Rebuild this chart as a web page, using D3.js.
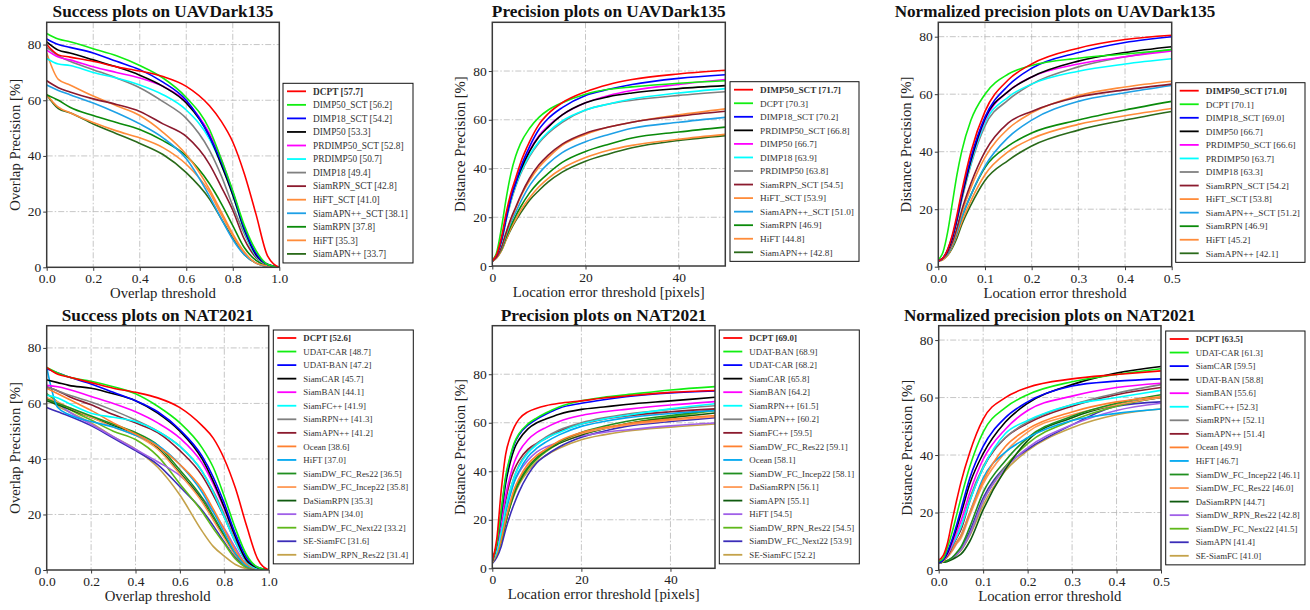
<!DOCTYPE html>
<html>
<head>
<meta charset="utf-8">
<script src="https://cdn.jsdelivr.net/npm/d3@7"></script>
<style>
  body { margin: 0; background: #fff; }
  svg text { font-family: "Liberation Serif", "Times New Roman", serif; }
</style>
</head>
<body>
<svg id="chart" width="1310" height="610"></svg>
<script>
// ---- thresholds (x values shared by the curves) ----
const successX = [0, 0.05, 0.1, 0.2, 0.3, 0.4, 0.5, 0.6, 0.7, 0.75, 0.8, 0.85, 0.9, 0.95, 1.0];
const precX = [0, 1, 2, 3, 4, 5, 6, 8, 10, 12, 15, 20, 25, 30, 40, 50];
const normX = [0, 0.01, 0.02, 0.03, 0.04, 0.05, 0.07, 0.1, 0.15, 0.2, 0.3, 0.4, 0.5];

const darkColors = ['#ff0000', '#11ee11', '#0000ff', '#000000', '#ff00ff', '#00ffff', '#808080',
  '#8b1a2e', '#ff8c3a', '#1ea0e6', '#0a8a0a', '#ff8c3a', '#2a6a1a'];
const natColors = ['#ff0000', '#11ee11', '#0000ff', '#000000', '#ff00ff', '#00ffff', '#808080',
  '#8b1a2e', '#ff8030', '#00a8f0', '#1f8f1f', '#ff9955', '#0f5a0f', '#a060e8', '#5fb81a', '#3b2db8', '#c4a24a'];

// ---- UAVDark135 success ----
const darkSuccessNames = ['DCPT', 'DIMP50_SCT', 'DIMP18_SCT', 'DIMP50', 'PRDIMP50_SCT', 'PRDIMP50', 'DIMP18',
  'SiamRPN_SCT', 'HiFT_SCT', 'SiamAPN++_SCT', 'SiamRPN', 'HiFT', 'SiamAPN++'];
const darkSuccessScores = [57.7, 56.2, 54.2, 53.3, 52.8, 50.7, 49.4, 42.8, 41.0, 38.1, 37.8, 35.3, 33.7];
const darkSuccessValues = [
  [80, 76.3, 75.5, 74, 72, 70.5, 68.5, 65, 58, 52.5, 45, 33.5, 19, 4, 0],
  [84, 82, 81, 78.5, 76, 72.5, 68, 61, 49.5, 39, 27.5, 15, 6, 1, 0],
  [82, 80, 79, 77, 74, 71, 66.5, 60, 47, 38, 27, 14, 5, 1, 0],
  [81, 78, 77, 74.5, 72, 69, 65, 59, 47, 37, 26, 13.5, 4.5, 1, 0],
  [78, 75.5, 74.5, 72, 70, 68, 65, 59.5, 48, 39, 27, 14, 4.5, 1, 0],
  [75, 73, 72.5, 70, 68, 65.5, 62, 56.5, 46, 37, 26, 13, 4, 1, 0],
  [79, 76, 74, 71, 68, 64.5, 59.5, 53.5, 42, 33, 22, 12, 4, 1, 0],
  [67, 64.5, 63, 60.5, 58.5, 56, 51.5, 47, 37, 29, 20.5, 10, 3.5, 1, 0],
  [77, 67.5, 65.5, 61.5, 58, 54.5, 48.5, 40.5, 28, 20, 12, 5.5, 1.5, 0.5, 0],
  [65.5, 63.5, 62, 59, 55.5, 51.5, 46.5, 39, 25.5, 17.5, 10, 4.5, 1.5, 0.3, 0],
  [62, 60, 57.5, 54.5, 52, 49.5, 45.5, 40, 30, 23, 15, 7, 2.5, 0.5, 0],
  [62, 57.5, 55.5, 52, 49, 46.5, 43, 37, 27, 19, 11.5, 5, 1.5, 0.3, 0],
  [62, 57, 55.5, 51.5, 48, 44.5, 40.5, 34, 24.5, 17.5, 10.5, 4.5, 1.5, 0.3, 0]
];

// ---- UAVDark135 precision ----
const darkPrecNames = ['DIMP50_SCT', 'DCPT', 'DIMP18_SCT', 'PRDIMP50_SCT', 'DIMP50', 'DIMP18', 'PRDIMP50',
  'SiamRPN_SCT', 'HiFT_SCT', 'SiamAPN++_SCT', 'SiamRPN', 'HiFT', 'SiamAPN++'];
const darkPrecScores = [71.7, 70.3, 70.2, 66.8, 66.7, 63.9, 63.8, 54.5, 53.9, 51.0, 46.9, 44.8, 42.8];
const darkPrecValues = [
  [2, 5, 12, 22, 30, 36, 42, 51, 58, 62.5, 67, 71.5, 74.5, 76.5, 78.8, 80.3],
  [2, 6, 16, 28, 38, 45, 50, 56.5, 61, 64, 67, 70.5, 72.5, 73.5, 75, 76],
  [2, 5, 11, 20, 28, 34, 40, 49, 56, 60.5, 65, 70, 72.5, 74.5, 77, 78.5],
  [2, 5, 11, 20, 28, 34, 39, 47, 53, 57, 62, 67, 69.5, 71, 72.8, 74],
  [2, 5, 11, 20, 28, 34.5, 39.5, 47.5, 53.5, 57.5, 62, 67, 70, 72, 74.5, 76.5],
  [2, 5, 10, 19, 27, 33, 38, 45.5, 51, 55, 59.5, 64, 66.5, 68.5, 71, 72.8],
  [2, 5, 10, 19, 26.5, 32.5, 37.5, 45, 50.5, 54.5, 59, 64, 66.5, 68, 70, 71.5],
  [2, 4, 8, 14, 19.5, 24, 28.5, 36, 41.5, 45.5, 50, 54.5, 57, 59, 61.5, 63.5],
  [2, 4, 8, 13.5, 19, 23.5, 28, 35, 40.5, 44.5, 49.5, 54, 57, 59, 62, 64.5],
  [2, 4, 7.5, 13, 18, 22, 26, 33, 38, 42, 46.5, 51, 54, 56.5, 59, 61],
  [2, 4, 7, 12, 16.5, 20.5, 24, 30, 34.5, 38, 42.5, 47, 50, 52.5, 55, 57],
  [2, 3.5, 6.5, 11, 15.5, 19, 22.5, 28, 32.5, 36, 40, 44.5, 47.5, 49.5, 52, 54],
  [2, 3.5, 6.5, 11, 15, 18.5, 21.5, 27, 31, 34.5, 38.5, 43, 46, 48.5, 51.5, 53.5]
];

// ---- UAVDark135 normalized precision ----
const darkNormNames = ['DIMP50_SCT', 'DCPT', 'DIMP18_SCT', 'DIMP50', 'PRDIMP50_SCT', 'PRDIMP50', 'DIMP18',
  'SiamRPN_SCT', 'HiFT_SCT', 'SiamAPN++_SCT', 'SiamRPN', 'HiFT', 'SiamAPN++'];
const darkNormScores = [71.0, 70.1, 69.0, 66.7, 66.6, 63.7, 63.3, 54.2, 53.8, 51.2, 46.9, 45.2, 42.1];
const darkNormValues = [
  [2, 3, 6, 11, 18, 26, 40, 54, 65, 70.5, 76, 79, 80.5],
  [2.5, 5, 12, 22, 32, 40, 51, 60, 67, 70, 72.5, 74, 75.5],
  [2, 3, 6, 10.5, 17, 25, 38, 52, 63, 69, 74.5, 78, 80],
  [2, 3, 5.5, 10, 16.5, 24, 37, 51.5, 61, 66, 71.5, 74.5, 76.5],
  [2, 3, 5.5, 10, 16.5, 24, 37, 51, 61, 66, 70.5, 73, 75],
  [2, 3, 5.5, 10, 16, 23.5, 36, 50, 59, 63.5, 68, 70.5, 72.3],
  [2, 3, 5.5, 10, 16, 23, 35.5, 49, 58, 63.5, 69.5, 73, 75.5],
  [2, 3, 5, 8.5, 13.5, 19.5, 29, 40, 50, 54, 59, 61.5, 63.5],
  [2, 3, 5, 8, 13, 18.5, 27.5, 38, 48, 53.5, 59.5, 62.5, 64.5],
  [2, 3, 4.5, 7.5, 12, 17, 25, 35, 45, 51, 57.5, 60.5, 63],
  [2, 3, 4.5, 7.5, 12, 17, 25, 34.5, 42, 46.5, 51, 54.5, 57.5],
  [2, 2.5, 4, 7, 11, 15.5, 23, 32, 40, 44.5, 49.5, 52.5, 55],
  [2, 2.5, 4, 6.5, 10, 14.5, 21.5, 30, 37, 42, 47.5, 51, 54]
];

// ---- NAT2021 success ----
const natSuccessNames = ['DCPT', 'UDAT-CAR', 'UDAT-BAN', 'SiamCAR', 'SiamBAN', 'SiamFC++', 'SiamRPN++', 'SiamAPN++',
  'Ocean', 'HiFT', 'SiamDW_FC_Res22', 'SiamDW_FC_Incep22', 'DaSiamRPN', 'SiamAPN', 'SiamDW_FC_Next22',
  'SE-SiamFC', 'SiamDW_RPN_Res22'];
const natSuccessScores = [52.6, 48.7, 47.2, 45.7, 44.1, 41.9, 41.3, 41.2, 38.6, 37.0, 36.5, 35.8, 35.3, 34.0, 33.2, 31.6, 31.4];
const natSuccessValues = [
  [73, 70.5, 69.5, 67.5, 65.5, 64, 62, 58.5, 52, 47.5, 40, 29.5, 16, 4, 0],
  [73, 71, 69.5, 68, 66, 63.5, 59, 53, 44, 37, 26.5, 15, 5.5, 1, 0],
  [72.5, 71, 69.5, 67, 64, 61, 57, 50.5, 41, 33.5, 24, 13, 4.5, 1, 0],
  [68.5, 67.5, 66.5, 65.5, 63.5, 61, 56.5, 50, 40, 32, 22.5, 12, 3.5, 0.8, 0],
  [66.5, 66, 65, 62.5, 60, 57, 53, 47.5, 38.5, 31, 22, 12, 3.5, 0.8, 0],
  [63, 62, 60, 56.5, 55, 53.5, 50, 44.5, 35.5, 28, 19, 10, 3, 0.5, 0],
  [66, 64.5, 63, 60.5, 57.5, 54, 50, 44.5, 35.5, 28.5, 20, 10.5, 3, 0.5, 0],
  [66, 64.5, 62.5, 59.5, 56, 53, 49.5, 43, 34, 27, 19, 10, 3, 0.5, 0],
  [65.5, 63.5, 61.5, 57.5, 53, 49, 44.5, 38, 29, 22, 14.5, 7, 2, 0.3, 0],
  [73, 58.5, 56, 53.5, 51.5, 48.5, 45, 38, 28, 21, 13.5, 6, 1.5, 0.3, 0],
  [61.5, 60, 58.5, 55.5, 52.5, 49.5, 45, 36, 26, 19.5, 12.5, 6, 1.5, 0.3, 0],
  [62, 60.5, 58.5, 55, 51.5, 48.5, 43.5, 34.5, 24.5, 18, 11.5, 5.5, 1.5, 0.3, 0],
  [61, 59.5, 58, 55, 52, 49, 44, 35, 25, 18.5, 12, 5.5, 1.5, 0.3, 0],
  [62, 60, 57, 52.5, 48, 43.5, 39, 34, 26, 21, 15, 8, 2, 0.3, 0],
  [63.5, 60.5, 58, 54, 50, 47, 41, 31, 21, 15, 9.5, 4, 1, 0.2, 0],
  [58.5, 57, 55.5, 52, 47.5, 43, 38, 30, 21.5, 16, 10, 4.5, 1, 0.2, 0],
  [62, 59, 57, 53, 48, 43.5, 37, 27, 14, 8.5, 5, 2, 0.5, 0.1, 0]
];

// ---- NAT2021 precision ----
const natPrecNames = ['DCPT', 'UDAT-BAN', 'UDAT-CAR', 'SiamCAR', 'SiamBAN', 'SiamRPN++', 'SiamAPN++', 'SiamFC++',
  'SiamDW_FC_Res22', 'Ocean', 'SiamDW_FC_Incep22', 'DaSiamRPN', 'SiamAPN', 'HiFT', 'SiamDW_RPN_Res22',
  'SiamDW_FC_Next22', 'SE-SiamFC'];
const natPrecScores = [69.0, 68.9, 68.2, 65.8, 64.2, 61.5, 60.2, 59.5, 59.1, 58.1, 58.1, 56.1, 55.1, 54.5, 54.5, 53.9, 52.2];
const natPrecValues = [
  [3, 12, 32, 47, 54, 58.5, 61.5, 64.5, 66, 67, 68, 69, 70.2, 71, 72.5, 73.3],
  [3, 10, 24, 38, 46, 52, 55.5, 59.5, 62, 64, 66.5, 69, 70.5, 71.5, 73.5, 74.9],
  [3, 10, 23, 37, 45.5, 51.5, 55, 59, 61.5, 63.5, 66, 68, 69.5, 70.7, 72.3, 73.1],
  [3, 10, 22, 35, 43.5, 49.5, 53, 57.5, 60, 61.5, 63.5, 65.5, 66.5, 67.5, 69, 70.5],
  [3, 9, 19, 30, 38, 44, 48, 53, 56, 58, 60.5, 63, 64.5, 65.5, 67.3, 68.7],
  [3, 7, 15, 25, 32, 38, 42, 47.5, 51, 53.5, 56, 59.5, 61.5, 63, 65.7, 67.8],
  [3, 7, 15, 25, 32, 38, 42.5, 48, 51.5, 54, 57, 60, 62, 63.5, 65.5, 67],
  [3, 8, 17, 28, 36, 41, 44.5, 49, 51.5, 53.5, 56.5, 59.5, 61.5, 62.8, 64.5, 65.7],
  [2.5, 6, 12, 20, 27, 33, 37, 43, 46.5, 49, 52.5, 56, 58, 59.5, 61.5, 63],
  [3, 7, 14, 23, 30, 36, 40, 46, 49.5, 52, 55, 58.5, 60.5, 62, 63.8, 65],
  [2.5, 6, 11.5, 19, 26, 31.5, 36, 41.5, 45.5, 48.5, 52, 56, 58.5, 60.5, 63, 65.3],
  [2.5, 6, 12, 20, 27, 32.5, 36.5, 42.5, 46.5, 49, 52, 55.5, 57.5, 59, 61, 62.5],
  [2.5, 6, 11.5, 19, 26, 31.5, 35.5, 41.5, 45.5, 48.5, 51.5, 55, 57.5, 59.5, 62, 64],
  [3, 7, 14, 24, 31, 36, 39.5, 44.5, 48, 50, 52, 54.5, 56, 57, 58.7, 59.9],
  [2.5, 6, 11.5, 19, 25.5, 31, 35, 41, 45, 48, 51.5, 55, 57.5, 59.5, 62.5, 65],
  [2, 4.5, 9, 16, 22, 27, 31.5, 38.5, 43.5, 46.5, 50, 54, 56.5, 58.5, 60.5, 62.1],
  [2.5, 5.5, 11, 19, 25.5, 30.5, 34.5, 40, 44, 46.5, 49.5, 53, 55, 56.5, 58.2, 59.5]
];

// ---- NAT2021 normalized precision ----
const natNormNames = ['DCPT', 'UDAT-CAR', 'SiamCAR', 'UDAT-BAN', 'SiamBAN', 'SiamFC++', 'SiamRPN++', 'SiamAPN++',
  'Ocean', 'HiFT', 'SiamDW_FC_Incep22', 'SiamDW_FC_Res22', 'DaSiamRPN', 'SiamDW_RPN_Res22', 'SiamDW_FC_Next22',
  'SiamAPN', 'SE-SiamFC'];
const natNormScores = [63.5, 61.3, 59.5, 58.8, 55.6, 52.3, 52.1, 51.4, 49.9, 46.7, 46.1, 46.0, 44.7, 42.8, 41.5, 41.4, 41.0];
const natNormValues = [
  [3.5, 5, 9.5, 17, 24, 30.5, 41, 52.5, 60, 63.5, 66.5, 68, 69.3],
  [3, 4, 8, 13, 19, 25, 36, 48, 56.5, 61, 65.5, 68, 70],
  [2.5, 3.5, 6.5, 10.5, 15.5, 21, 32, 43, 53, 58.5, 64, 65.7, 66.5],
  [2.5, 3.5, 6, 10, 14.5, 19.5, 30, 40.5, 51.5, 58, 64.5, 68.5, 70.8],
  [2.5, 3.5, 5.5, 9, 13, 17, 27, 38.5, 49, 55.5, 60.5, 63.5, 65],
  [2.5, 3.5, 5.5, 8.5, 11.5, 15, 24, 35.5, 47.5, 52, 57.5, 60, 62.5],
  [2.5, 3.5, 5.5, 8.5, 11.5, 15, 25, 36, 46, 51.5, 57.5, 61.5, 64.5],
  [2.5, 3.5, 5, 8, 11, 14, 24, 35.5, 46, 51, 57, 61, 63.5],
  [2.5, 3, 5, 7, 9.5, 12, 20, 31, 43, 49, 55, 58.5, 60.3],
  [2.5, 3, 5, 7, 9.5, 12, 20, 32, 41, 46, 52, 54.5, 56],
  [2.5, 2.8, 3.3, 4.3, 6, 8, 15, 27, 38, 46, 53.5, 58, 61],
  [2.5, 3, 4.5, 6.5, 9, 11, 19, 30, 41, 48, 54, 57.5, 60],
  [2.5, 2.7, 3, 3.6, 4.5, 5.5, 10, 21, 35, 45, 53, 57.5, 60],
  [2.5, 2.8, 3.2, 4, 5.3, 7, 12.5, 24, 35.5, 42.5, 50.5, 55.5, 58],
  [2.5, 2.8, 3.2, 4, 5.3, 7, 12.5, 24, 36, 44, 52, 57, 60],
  [2.5, 2.8, 3.3, 4.2, 5.6, 7.5, 13.5, 25, 36, 42, 50.5, 57, 58.5],
  [2.5, 2.8, 3.2, 4, 5.2, 6.8, 12, 22.5, 34.5, 41.5, 49.5, 54, 56]
];

// ---- layout of the six panels ----
const fmt1 = d3.format('.1f');
const fmt0 = d3.format('d');
const panels = [
  { left: 46.7, right: 279.3, top: 22.3, bottom: 267.3, xDomain: [0, 1], yDomain: [0, 88],
    xTicks: [0, 0.2, 0.4, 0.6, 0.8, 1.0], xFormat: fmt1, xs: successX,
    names: darkSuccessNames, scores: darkSuccessScores, values: darkSuccessValues, colors: darkColors,
    title: 'Success plots on UAVDark135', titleW: 221,
    xLabel: 'Overlap threshold', yLabel: 'Overlap Precision [%]',
    legendX: 283, legendY: 83.3, legendW: 130 },
  { left: 492.3, right: 725.3, top: 22.3, bottom: 266, xDomain: [0, 50], yDomain: [0, 100],
    xTicks: [0, 20, 40], xFormat: fmt0, xs: precX,
    names: darkPrecNames, scores: darkPrecScores, values: darkPrecValues, colors: darkColors,
    title: 'Precision plots on UAVDark135', titleW: 234,
    xLabel: 'Location error threshold [pixels]', yLabel: 'Distance Precision [%]',
    legendX: 730, legendY: 81.7, legendW: 129 },
  { left: 938.3, right: 1171.7, top: 22.3, bottom: 266.7, xDomain: [0, 0.5], yDomain: [0, 85],
    xTicks: [0, 0.1, 0.2, 0.3, 0.4, 0.5], xFormat: fmt1, xs: normX,
    names: darkNormNames, scores: darkNormScores, values: darkNormValues, colors: darkColors,
    title: 'Normalized precision plots on UAVDark135', titleW: 321,
    xLabel: 'Location error threshold', yLabel: 'Distance Precision [%]',
    legendX: 1175.7, legendY: 82.7, legendW: 129.3 },
  { left: 46.7, right: 268.7, top: 325.7, bottom: 570, xDomain: [0, 1], yDomain: [0, 88],
    xTicks: [0, 0.2, 0.4, 0.6, 0.8, 1.0], xFormat: fmt1, xs: successX,
    names: natSuccessNames, scores: natSuccessScores, values: natSuccessValues, colors: natColors,
    title: 'Success plots on NAT2021', titleW: 192,
    xLabel: 'Overlap threshold', yLabel: 'Overlap Precision [%]',
    legendX: 273.3, legendY: 330, legendW: 140 },
  { left: 492.3, right: 715, top: 325.7, bottom: 568.3, xDomain: [0, 50], yDomain: [0, 100],
    xTicks: [0, 20, 40], xFormat: fmt0, xs: precX,
    names: natPrecNames, scores: natPrecScores, values: natPrecValues, colors: natColors,
    title: 'Precision plots on NAT2021', titleW: 206,
    xLabel: 'Location error threshold [pixels]', yLabel: 'Distance Precision [%]',
    legendX: 719.3, legendY: 330, legendW: 140 },
  { left: 938.7, right: 1161, top: 325.7, bottom: 570, xDomain: [0, 0.5], yDomain: [0, 85],
    xTicks: [0, 0.1, 0.2, 0.3, 0.4, 0.5], xFormat: fmt1, xs: normX,
    names: natNormNames, scores: natNormScores, values: natNormValues, colors: natColors,
    title: 'Normalized precision plots on NAT2021', titleW: 292,
    xLabel: 'Location error threshold', yLabel: 'Distance Precision [%]',
    legendX: 1165.7, legendY: 331, legendW: 139.3 }
];
const yTicks = [0, 20, 40, 60, 80];

const svg = d3.select('#chart');
const defs = svg.append('defs');

// scale a text's font size so that it spans the wanted width
function fitFont(sel, base, target) {
  sel.attr('font-size', base);
  const w = sel.node().getComputedTextLength();
  const fs = Math.max(base * 0.8, Math.min(base * 1.25, base * target / w));
  sel.attr('font-size', fs);
  return fs;
}

// label size from the widest axis label in the reference (192 px)
const probe = svg.append('text').attr('font-size', 15).text('Location error threshold [pixels]');
const labelSize = Math.max(13, Math.min(17, 15 * 192 / probe.node().getComputedTextLength()));
probe.remove();

panels.forEach((p, k) => {
  const x = d3.scaleLinear().domain(p.xDomain).range([p.left, p.right]);
  const y = d3.scaleLinear().domain(p.yDomain).range([p.bottom, p.top]);
  const g = svg.append('g');

  defs.append('clipPath').attr('id', `clip${k}`)
    .append('rect')
    .attr('x', p.left).attr('y', p.top)
    .attr('width', p.right - p.left).attr('height', p.bottom - p.top);

  // grid
  const grid = g.append('g')
    .attr('stroke', '#b8b8b8')
    .attr('stroke-width', 0.8)
    .attr('stroke-dasharray', '6,2,1.5,2');
  grid.selectAll('.vg')
    .data(p.xTicks.filter(t => t > p.xDomain[0] && t < p.xDomain[1]))
    .join('line')
    .attr('x1', d => x(d)).attr('x2', d => x(d))
    .attr('y1', p.top).attr('y2', p.bottom);
  grid.selectAll('.hg')
    .data(yTicks.filter(t => t > p.yDomain[0] && t < p.yDomain[1]))
    .join('line')
    .attr('x1', p.left).attr('x2', p.right)
    .attr('y1', d => y(d)).attr('y2', d => y(d));

  // curves
  const line = d3.line()
    .x((d, i) => x(p.xs[i]))
    .y(d => y(d))
    .curve(d3.curveMonotoneX);
  g.append('g')
    .attr('clip-path', `url(#clip${k})`)
    .selectAll('path')
    .data(p.values.map((v, i) => ({ v, i })).reverse())
    .join('path')
    .attr('d', d => line(d.v))
    .attr('fill', 'none')
    .attr('stroke', d => p.colors[d.i])
    .attr('stroke-width', 1.6);

  // frame
  g.append('rect')
    .attr('x', p.left).attr('y', p.top)
    .attr('width', p.right - p.left).attr('height', p.bottom - p.top)
    .attr('fill', 'none')
    .attr('stroke', '#3a3a3a')
    .attr('stroke-width', 1.5);

  // axes
  const xa = g.append('g')
    .attr('transform', `translate(0,${p.bottom})`)
    .call(d3.axisBottom(x).tickValues(p.xTicks).tickFormat(p.xFormat).tickSize(3.5).tickPadding(3));
  const ya = g.append('g')
    .attr('transform', `translate(${p.left},0)`)
    .call(d3.axisLeft(y).tickValues(yTicks).tickSize(3.5).tickPadding(2));
  [xa, ya].forEach(a => {
    a.attr('font-family', null);
    a.select('.domain').remove();
    a.selectAll('line').attr('stroke', '#3a3a3a');
    a.selectAll('text')
      .attr('font-size', 13.5)
      .attr('fill', '#222');
  });
  ya.selectAll('text').attr('dy', '0.3em');

  // title and labels
  const title = g.append('text')
    .attr('x', (p.left + p.right) / 2)
    .attr('y', p.top - 5)
    .attr('text-anchor', 'middle')
    .attr('font-weight', 'bold')
    .attr('fill', '#111')
    .text(p.title);
  fitFont(title, 16.5, p.titleW);
  g.append('text')
    .attr('x', (p.left + p.right) / 2)
    .attr('y', p.bottom + 31)
    .attr('text-anchor', 'middle')
    .attr('font-size', labelSize)
    .attr('fill', '#222')
    .text(p.xLabel);
  g.append('text')
    .attr('transform', `translate(${p.left - 27},${(p.top + p.bottom) / 2}) rotate(-90)`)
    .attr('text-anchor', 'middle')
    .attr('font-size', labelSize)
    .attr('fill', '#222')
    .text(p.yLabel);

  // legend
  const step = 13.55;
  const lg = g.append('g').attr('transform', `translate(${p.legendX},${p.legendY})`);
  lg.append('rect')
    .attr('fill', '#fff')
    .attr('stroke', '#111')
    .attr('stroke-width', 1)
    .attr('width', p.legendW)
    .attr('height', p.names.length * step + 3.5);
  const rows = lg.selectAll('.row')
    .data(p.names)
    .join('g')
    .attr('transform', (d, i) => `translate(0,${8 + i * step})`);
  rows.append('line')
    .attr('x1', 4).attr('x2', 23)
    .attr('stroke', (d, i) => p.colors[i])
    .attr('stroke-width', 1.8);
  const texts = rows.append('text')
    .attr('x', 30)
    .attr('dy', '0.35em')
    .attr('font-size', 9.3)
    .attr('fill', '#333')
    .attr('font-weight', (d, i) => i === 0 ? 'bold' : 'normal')
    .text((d, i) => `${d} [${p.scores[i].toFixed(1)}]`);
  let maxW = 0;
  texts.each(function () { maxW = Math.max(maxW, this.getComputedTextLength()); });
  const fs = Math.max(8, Math.min(11, 9.3 * (p.legendW - 35) / maxW));
  texts.attr('font-size', fs);
});
</script>
</body>
</html>
